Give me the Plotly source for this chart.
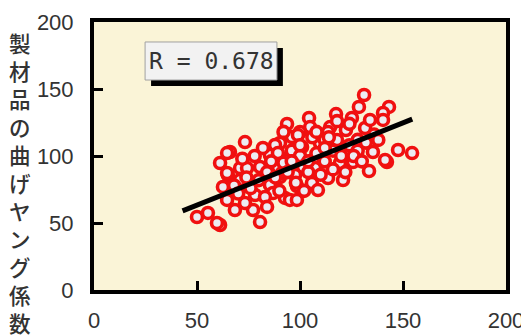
import plotly.graph_objects as go

# Scatter data (x, y)
x_vals = [131.1, 128.6, 143.2, 117.5, 125.2, 140.3, 140.3, 104.4, 93.7, 131.6,
          122.3, 114.6, 73.3, 66.0, 147.6, 154.4, 142.2, 133.5, 127.7, 135.4,
          120.9, 113.6, 98.5, 92.7, 85.4, 80.6, 77.2, 68.4, 64.6, 61.2,
          73.3, 78.2, 86.9, 90.3, 65.0, 70.9, 80.6, 89.3, 94.2, 101.5,
          106.3, 119.4, 85.4, 90.3, 97.6, 101.0, 109.7, 118.0, 104.9, 100.0,
          50.0, 55.3, 59.7, 61.2, 64.6, 64.6, 62.6, 64.6, 96.1, 87.9,
          89.3, 74.3, 70.9, 83.0, 91.3, 95.1, 97.6, 134.0, 113.6, 99.0,
          141.3, 105.8, 108.7, 98.5, 125.7, 107.3,
          78, 82, 84, 92, 96, 100, 104, 108, 112, 116,
          120, 124, 128, 112, 106, 94, 88, 80, 76, 72,
          68, 74, 110, 116, 122, 128, 132, 136, 124, 118,
          108, 92, 86, 98, 102, 90, 84, 70, 112, 104,
          96, 100, 114, 126, 138, 130]
y_vals = [145.5, 136.6, 136.6, 131.3, 128.4, 132.1, 126.9, 128.4, 123.9, 120.9,
          119.4, 121.6, 110.4, 103.0, 104.5, 102.2, 95.5, 88.8, 99.3, 103.0,
          82.1, 83.6, 77.6, 68.7, 78.4, 50.7, 59.7, 59.7, 68.7, 48.5,
          64.9, 70.9, 72.4, 84.3, 85.8, 91.0, 91.8, 91.8, 97.0, 91.8,
          97.0, 94.8, 100.7, 109.7, 113.4, 106.7, 109.7, 111.9, 121.6, 117.9,
          54.5, 57.5, 50.0, 94.8, 102.2, 87.3, 76.9, 67.2, 114.2, 108.2,
          102.2, 91.0, 82.1, 69.4, 87.3, 67.2, 85.8, 126.9, 117.9, 115.7,
          97.0, 79.9, 74.6, 67.2, 95.5, 91.0,
          100, 106, 88, 95, 104, 100, 88, 102, 96, 104,
          100, 108, 112, 112, 114, 88, 84, 82, 76, 98,
          78, 84, 86, 90, 88, 104, 110, 116, 124, 126,
          118, 118, 96, 80, 74, 74, 62, 72, 106, 96,
          96, 108, 114, 100, 112, 96]

# Regression line end points
line_x = [43.0, 154.5]
line_y = [59.0, 127.5]

x_ticks = [0, 50, 100, 150, 200]
y_ticks = [0, 50, 100, 150, 200]
y_title = "製材品の曲げヤング係数"
r_label = "R = 0.678"

fig = go.Figure()
fig.add_trace(go.Scatter(
    x=x_vals, y=y_vals, mode="markers",
    marker=dict(size=11, color="#ECECF2", line=dict(color="#F01010", width=3.6)),
    hoverinfo="skip", showlegend=False))
fig.add_trace(go.Scatter(
    x=line_x, y=line_y, mode="lines",
    line=dict(color="black", width=5), showlegend=False, hoverinfo="skip"))

# R box with shadow
fig.add_shape(type="rect", x0=27.7, x1=91.7, y0=152.2, y1=180.6,
              fillcolor="black", line=dict(width=0), layer="above")
fig.add_shape(type="rect", x0=24.8, x1=88.8, y0=156.7, y1=185.1,
              fillcolor="#F2F2F2", line=dict(color="#A0A0A0", width=1), layer="above")
fig.add_annotation(x=56.8, y=170.9, xref="x", yref="y", text=r_label,
                   showarrow=False, font=dict(family="DejaVu Sans Mono", size=23, color="#333333"))

# Vertical y title
fig.add_annotation(x=-0.18, y=0.40, xref="paper", yref="paper",
                   text="<br>".join(list(y_title)), showarrow=False,
                   xanchor="center", yanchor="middle", align="center",
                   font=dict(family="Noto Sans CJK JP", size=21.5, color="#333333", weight=500))

axis_common = dict(range=[0, 200], showgrid=False, zeroline=False, automargin=False,
                   showline=True, linecolor="black", linewidth=4, mirror=True,
                   ticks="inside", ticklen=9, tickwidth=3, tickcolor="black",
                   tickfont=dict(family="Liberation Sans", size=22, color="#333333"))
fig.update_xaxes(tickvals=x_ticks, ticktext=[str(v) for v in x_ticks],
                 ticklabelstandoff=8, **axis_common)
fig.update_yaxes(tickvals=y_ticks, ticktext=[str(v) for v in y_ticks],
                 ticklabelstandoff=12, **axis_common)

# page body adds an 8px margin, so the figure is 8px smaller and shifted
fig.update_layout(width=521, height=327,
                  margin=dict(l=86, r=23, t=14, b=45),
                  plot_bgcolor="#FAF4D7", paper_bgcolor="white")

fig.write_html("out.html")
